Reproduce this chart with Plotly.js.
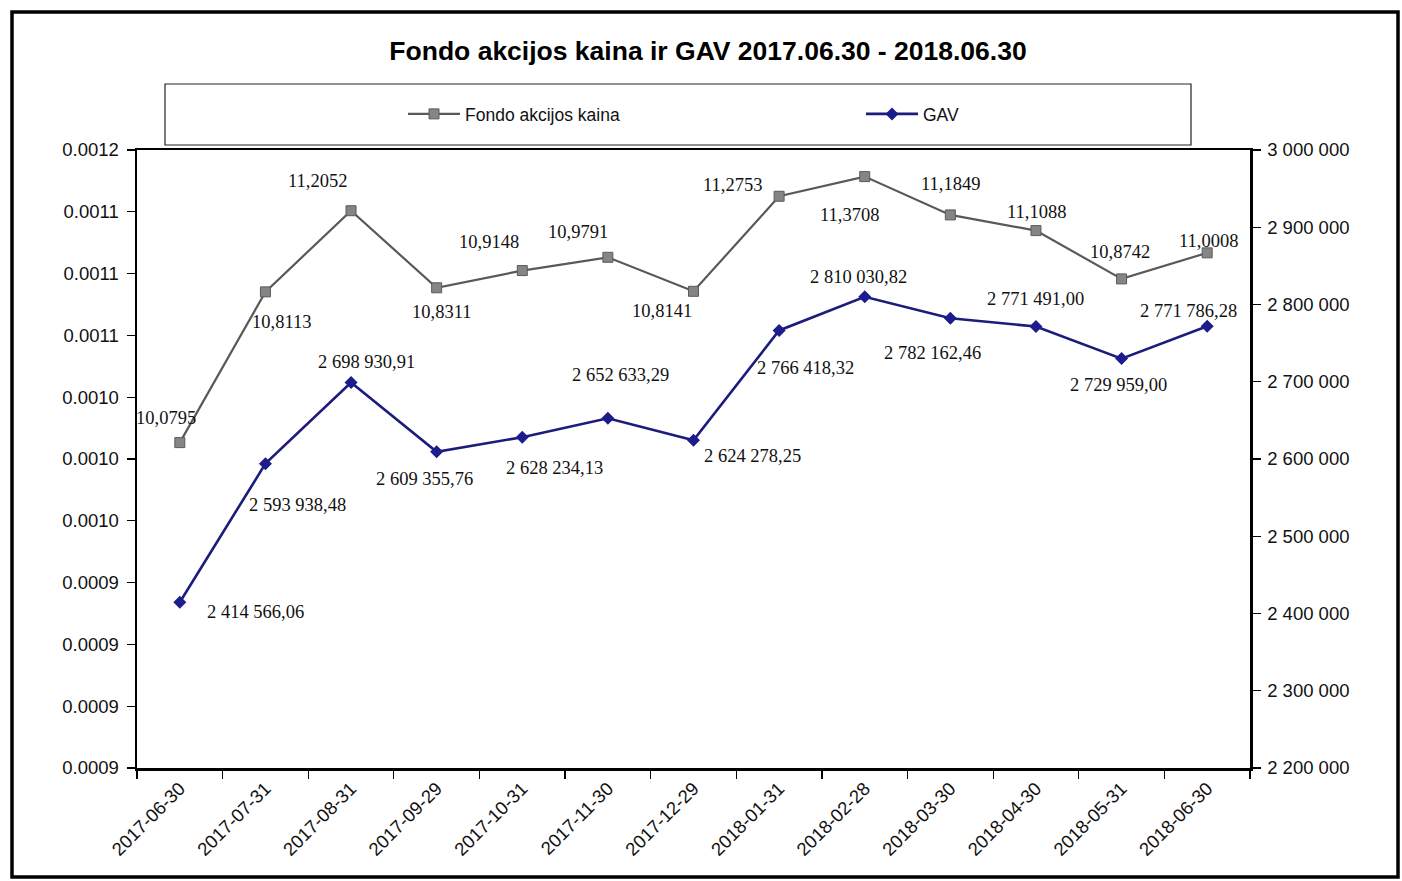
<!DOCTYPE html>
<html>
<head>
<meta charset="utf-8">
<script src="https://cdn.plot.ly/plotly-3.0.1.min.js"></script>
<style>
html,body{margin:0;padding:0;background:#fff;}
#chart{width:1402px;height:881px;}
</style>
</head>
<body>
<div id="chart"></div>
<script>
// ---- data ----
const dates = ["2017-06-30","2017-07-31","2017-08-31","2017-09-29","2017-10-31","2017-11-30","2017-12-29","2018-01-31","2018-02-28","2018-03-30","2018-04-30","2018-05-31","2018-06-30"];
const price = [10.0795, 10.8113, 11.2052, 10.8311, 10.9148, 10.9791, 10.8141, 11.2753, 11.3708, 11.1849, 11.1088, 10.8742, 11.0008];
const gav = [2414566.06, 2593938.48, 2698930.91, 2609355.76, 2628234.13, 2652633.29, 2624278.25, 2766418.32, 2810030.82, 2782162.46, 2771491.00, 2729959.00, 2771786.28];
const leftTickVals = [8.5, 8.8, 9.1, 9.4, 9.7, 10.0, 10.3, 10.6, 10.9, 11.2, 11.5];
const leftTickText = ["0.0009","0.0009","0.0009","0.0009","0.0010","0.0010","0.0010","0.0011","0.0011","0.0011","0.0012"];
const rightTickVals = [2200000,2300000,2400000,2500000,2600000,2700000,2800000,2900000,3000000];
const seriesNames = ["Fondo akcijos kaina", "GAV"];

// ---- label placement (pixels, dx right, dy down) ----
const priceOff = [[-14,-25],[16,30],[-34,-30],[5,24],[-33,-29],[-30,-25],[-32,20],[-47,-11],[-15,38],[0,-31],[1,-19],[-2,-27],[1,-12]];
const gavOff = [[76,10],[32,41],[15,-21],[-12,27],[32,31],[13,-43],[59,16],[26,38],[-6,-20],[-18,35],[0,-28],[-3,26],[-19,-15]];

function fmtPrice(v){ return v.toFixed(4).replace('.', ','); }
function fmtGav(v){
  const parts = v.toFixed(2).split('.');
  const intp = parts[0].replace(/\B(?=(\d{3})+(?!\d))/g, ' ');
  return intp + ',' + parts[1];
}
function fmtThousands(v){ return String(Math.round(v)).replace(/\B(?=(\d{3})+(?!\d))/g, ' '); }

const L = 137, R = 1250, T = 150, B = 768, W = 1402, H = 881;
const pw = R - L, ph = B - T;
const px = x => (x - L) / pw;
const py = y => (B - y) / ph;

const traces = [
  {
    x: dates, y: price, name: seriesNames[0], type: 'scatter', mode: 'lines+markers',
    yaxis: 'y',
    line: {color: '#595959', width: 2.2},
    marker: {symbol: 'square', size: 10, color: '#858585', line: {color: '#5a5a5a', width: 1}},
    hoverinfo: 'skip'
  },
  {
    x: dates, y: gav, name: seriesNames[1], type: 'scatter', mode: 'lines+markers',
    yaxis: 'y2',
    line: {color: '#1c1c7c', width: 2.6},
    marker: {symbol: 'diamond', size: 10, color: '#1c1c8c'},
    hoverinfo: 'skip'
  }
];

const annFont = {family: 'Liberation Serif, Times New Roman, serif', size: 18.5, color: '#111'};
const annotations = [];
price.forEach((v, i) => {
  annotations.push({x: dates[i], y: v, xref: 'x', yref: 'y', text: fmtPrice(v), showarrow: false,
    xshift: priceOff[i][0], yshift: -priceOff[i][1], font: annFont});
});
gav.forEach((v, i) => {
  annotations.push({x: dates[i], y: v, xref: 'x', yref: 'y2', text: fmtGav(v), showarrow: false,
    xshift: gavOff[i][0], yshift: -gavOff[i][1], font: annFont});
});

const shapes = [
  // outer frame
  {type: 'rect', xref: 'paper', yref: 'paper', x0: px(12), x1: px(1398), y0: py(877), y1: py(12),
    line: {color: '#000', width: 3.5}, fillcolor: 'rgba(0,0,0,0)', layer: 'below'},
  // legend box
  {type: 'rect', xref: 'paper', yref: 'paper', x0: px(165), x1: px(1191), y0: py(145), y1: py(84),
    line: {color: '#222', width: 1.2}, fillcolor: 'rgba(0,0,0,0)'}
];

const tickFont = {family: 'Liberation Sans, Arial, sans-serif', size: 18.5, color: '#111'};

const layout = {
  width: W, height: H,
  margin: {l: L, r: W - R, t: T, b: H - B, pad: 0, autoexpand: false},
  paper_bgcolor: '#fff', plot_bgcolor: '#fff',
  separators: ', ',
  title: {text: '<b>Fondo akcijos kaina ir GAV 2017.06.30 - 2018.06.30</b>',
    font: {family: 'Liberation Sans, Arial, sans-serif', size: 26.5, color: '#000'},
    x: 0.505, xref: 'container', y: 1 - 51 / H, yref: 'container', xanchor: 'center', yanchor: 'middle'},
  showlegend: true,
  legend: {orientation: 'h', x: px(403), y: py(114), xanchor: 'left', yanchor: 'middle',
    entrywidth: 391, entrywidthmode: 'pixels', itemwidth: 52, bgcolor: 'rgba(0,0,0,0)',
    font: {family: 'Liberation Sans, Arial, sans-serif', size: 17.5, color: '#111'}},
  xaxis: {
    type: 'category', showgrid: false, zeroline: false,
    showline: true, linecolor: '#000', linewidth: 2.5, mirror: true,
    ticks: 'outside', ticklen: 8, tickwidth: 1.2, tickcolor: '#000', tickson: 'boundaries',
    tickangle: -45, tickfont: tickFont, range: [-0.5, 12.5]
  },
  yaxis: {
    range: [8.5, 11.5], tickvals: leftTickVals, ticktext: leftTickText,
    showgrid: false, zeroline: false, showline: true, linecolor: '#000', linewidth: 2.5,
    ticks: 'outside', ticklen: 8, tickwidth: 1.2, tickcolor: '#000', tickfont: tickFont, ticklabelstandoff: 4
  },
  yaxis2: {
    overlaying: 'y', side: 'right', range: [2200000, 3000000],
    tickvals: rightTickVals, ticktext: rightTickVals.map(fmtThousands),
    showgrid: false, zeroline: false, showline: true, linecolor: '#000', linewidth: 2.5,
    ticks: 'outside', ticklen: 8, tickwidth: 1.2, tickcolor: '#000', tickfont: tickFont, ticklabelstandoff: 3
  },
  annotations: annotations,
  shapes: shapes
};

Plotly.newPlot('chart', traces, layout, {staticPlot: true, displayModeBar: false});
</script>
</body>
</html>
